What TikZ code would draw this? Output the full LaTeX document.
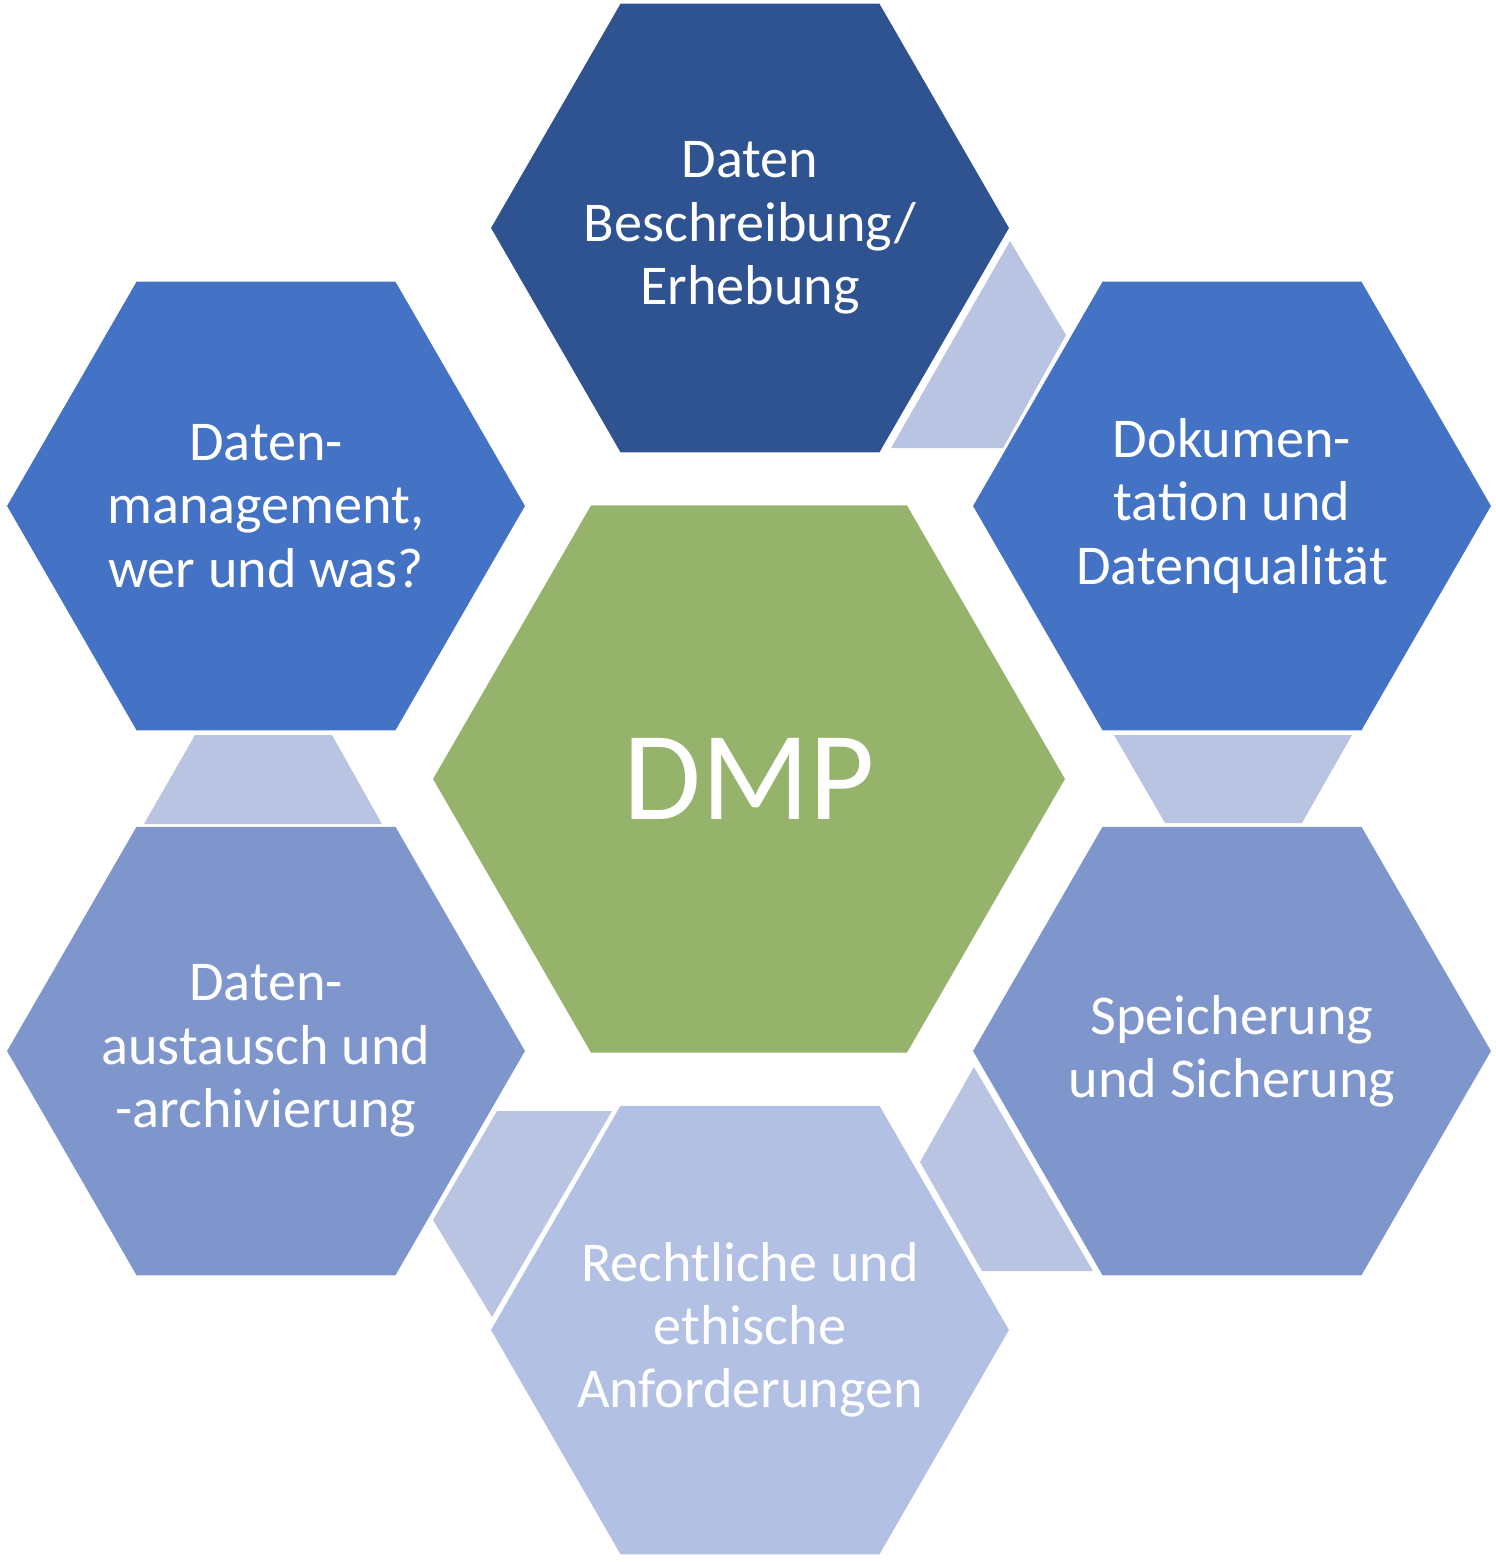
\documentclass[tikz,border=0pt]{standalone}
\usepackage{fontspec}
\setmainfont{Carlito}
\usetikzlibrary{shapes.geometric}

\definecolor{topblue}{RGB}{47,82,144}
\definecolor{midblue}{RGB}{68,114,196}
\definecolor{softblue}{RGB}{127,150,205}
\definecolor{paleblue}{RGB}{178,192,227}
\definecolor{linkblue}{RGB}{184,196,225}
\definecolor{dmpgreen}{RGB}{149,179,107}

\begin{document}
\begin{tikzpicture}[x=0.02cm, y=-0.02cm,
  hexbox/.style={regular polygon, regular polygon sides=6, inner sep=0pt, minimum size=10.36cm},
  hextext/.style={text=white, align=center, inner sep=0pt, font=\fontsize{32}{36}\selectfont},
  linkbar/.style={fill=linkblue}]
  \useasboundingbox (0,0) rectangle (1496,1562);

  % hexagons
  \node (dmp) [hexbox, minimum size=12.64cm, fill=dmpgreen] at (749,779) {};
  \node (beschreibung) [hexbox, fill=topblue] at (750,228) {};
  \node (dokumentation) [hexbox, fill=midblue] at (1232,506) {};
  \node (speicherung) [hexbox, fill=softblue] at (1232,1051) {};
  \node (recht) [hexbox, fill=paleblue] at (750,1330) {};
  \node (austausch) [hexbox, fill=softblue] at (266,1051) {};
  \node (management) [hexbox, fill=midblue] at (266,506) {};

  % texts
  \node (dmp-txt) [hextext, font=\fontsize{72}{80}\selectfont] at (dmp) {DMP};
  \node (beschreibung-txt) [hextext] at (beschreibung) {Daten\\Beschreibung/\\Erhebung};
  \node (dokumentation-txt) [hextext] at (dokumentation) {Dokumen-\\tation und\\Datenqualität};
  \node (speicherung-txt) [hextext] at (speicherung) {Speicherung\\und Sicherung};
  \node (recht-txt) [hextext] at (recht) {Rechtliche und\\ethische\\Anforderungen};
  \node (austausch-txt) [hextext] at (austausch) {Daten-\\austausch und\\-archivierung};
  \node (management-txt) [hextext] at (management) {Daten-\\management,\\wer und was?};

  % links between the outer hexagons
  \fill[linkbar] (1010,241) -- (1066,335) -- (1003,448) -- (891,448) -- cycle;
  \fill[linkbar] (1114,735) -- (1352,735) -- (1302,823) -- (1165,823) -- cycle;
  \fill[linkbar] (974,1067) -- (920,1162) -- (982,1271) -- (1093,1271) -- cycle;
  \fill[linkbar] (497,1111) -- (612,1111) -- (492,1317) -- (433,1220) -- cycle;
  \fill[linkbar] (195,735) -- (332,735) -- (382,824) -- (144,824) -- cycle;
\end{tikzpicture}
\end{document}
